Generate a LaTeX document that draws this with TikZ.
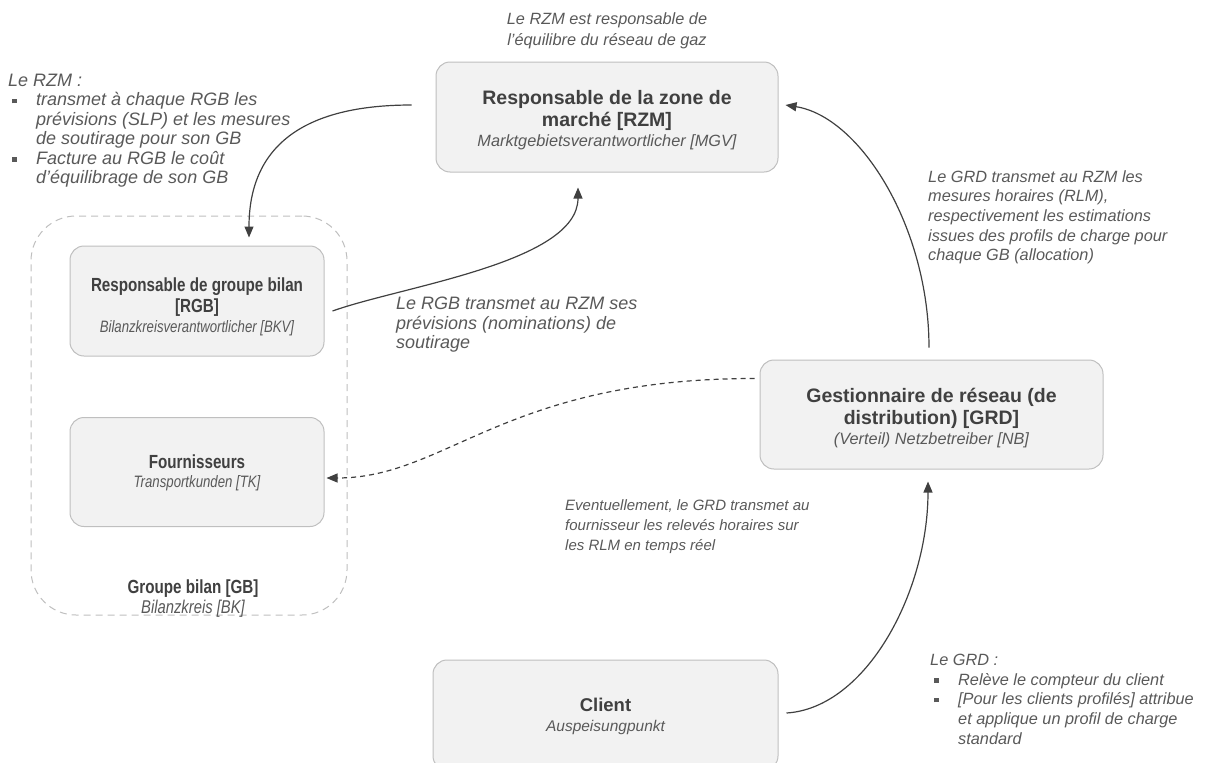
\documentclass[tikz,border=0pt]{standalone}
\usepackage{fontspec}
\setmainfont{Liberation Sans}
\newfontfamily\condfont{Liberation Sans}[FakeStretch=0.8]
\usetikzlibrary{arrows.meta,calc}
\definecolor{boxfill}{HTML}{F2F2F2}
\definecolor{boxline}{HTML}{BFBFBF}
\definecolor{titlecol}{HTML}{404040}
\definecolor{notecol}{HTML}{595959}
\definecolor{arrowcol}{HTML}{404040}
% square bullet and matching indent for the note lists
\newcommand\bulmark{\makebox[28pt][l]{\hspace{4pt}\raisebox{2.5pt}{\rule{4.5pt}{4.5pt}}}}
\newcommand\bulpad{\hspace*{28pt}}
\newcommand\titlefont{\fontsize{19.5}{22.5}\selectfont\bfseries}
\newcommand\subfont{\fontsize{16.3}{19}\selectfont\mdseries\itshape\color{notecol}}
\begin{document}
\begin{tikzpicture}[x=1pt,y=-1pt,
  box/.style={draw=boxline, line width=1pt, fill=boxfill, rounded corners=14pt, inner sep=0pt},
  boxtext/.style={inner sep=0pt, align=center, text=titlecol, font=\titlefont},
  condtext/.style={boxtext, font=\condfont\fontsize{19}{21.5}\selectfont\bfseries},
  group/.style={draw=boxline, line width=1pt, dash pattern=on 7pt off 5pt,
    rounded corners=45pt, inner sep=0pt},
  note/.style={inner sep=0pt, align=left, text=notecol,
    font=\fontsize{16.3}{19.7}\selectfont\itshape},
  conn/.style={draw=arrowcol, line width=1.2pt, -{Triangle[length=11pt,width=9pt]}},
  dconn/.style={conn, dash pattern=on 5pt off 4pt}]
\useasboundingbox (0,0) rectangle (1208,763);

% balancing group frame
\node[group, minimum width=316pt, minimum height=399pt] (gb) at (189,415.5) {};

% actors
\node[box, minimum width=342pt, minimum height=110pt] (rzm) at (607,117) {};
\node[box, minimum width=254pt, minimum height=110pt] (rgb) at (197,301) {};
\node[box, minimum width=254pt, minimum height=109pt] (four) at (197,472) {};
\node[box, minimum width=343pt, minimum height=109pt] (grd) at (931.5,414.5) {};
\node[box, minimum width=345pt, minimum height=110pt] (client) at (605.5,715) {};

\node[boxtext] (rzmtxt) at (607,120)
  {Responsable de la zone de\\marché [RZM]\\[-2.5pt]{\subfont Marktgebietsverantwortlicher [MGV]}};
\node[condtext] (rgbtxt) at (197,306.5)
  {Responsable de groupe bilan\\{[RGB]}\\[-2pt]{\fontsize{16.5}{19}\selectfont\mdseries\itshape\color{notecol}Bilanzkreisverantwortlicher [BKV]}};
\node[condtext] (fourtxt) at (197,473)
  {Fournisseurs\\[-2pt]{\fontsize{16.5}{19}\selectfont\mdseries\itshape\color{notecol}Transportkunden [TK]}};
\node[boxtext] (grdtxt) at (931.5,418)
  {Gestionnaire de réseau (de\\distribution) [GRD]\\[-2.5pt]{\subfont (Verteil) Netzbetreiber [NB]}};
\node[boxtext, font=\fontsize{18.5}{22}\selectfont\bfseries] (clienttxt) at (605.5,716.5)
  {Client\\[-2pt]{\fontsize{15.5}{19}\selectfont\mdseries\itshape\color{notecol}Auspeisungpunkt}};
\node[condtext] (gbtxt) at (193,598.5)
  {Groupe bilan [GB]\\[-1pt]{\fontsize{18.5}{21}\selectfont\mdseries\itshape\color{notecol}Bilanzkreis [BK]}};

% notes
\node[note, align=center, font=\fontsize{16.3}{21}\selectfont\itshape] (n1) at (607,30.5)
  {Le RZM est responsable de\\l’équilibre du réseau de gaz};
\node[note, anchor=north west, font=\fontsize{18}{19.4}\selectfont\itshape] (n2) at (8,74)
  {Le RZM :\\
   \bulmark transmet à chaque RGB les\\
   \bulpad prévisions (SLP) et les mesures\\
   \bulpad de soutirage pour son GB\\
   \bulmark Facture au RGB le coût\\
   \bulpad d’équilibrage de son GB};
\node[note, anchor=north west] (n3) at (928,170)
  {Le GRD transmet au RZM les\\
   mesures horaires (RLM),\\
   respectivement les estimations\\
   issues des profils de charge pour\\
   chaque GB (allocation)};
\node[note, anchor=north west, font=\fontsize{18}{19.6}\selectfont\itshape] (n4) at (396,297)
  {Le RGB transmet au RZM ses\\
   prévisions (nominations) de\\
   soutirage};
\node[note, anchor=north west, font=\fontsize{15}{20}\selectfont\itshape] (n5) at (565,499)
  {Eventuellement, le GRD transmet au\\
   fournisseur les relevés horaires sur\\
   les RLM en temps réel};
\node[note, anchor=north west] (n6) at (930,654)
  {Le GRD :\\
   \bulmark Relève le compteur du client\\
   \bulmark {[Pour les clients profilés]} attribue\\
   \bulpad et applique un profil de charge\\
   \bulpad standard};

% flows
\draw[conn] ($(rzm.west)+(-24,-12)$) .. controls +(-110,0) and +(0,-90) .. ($(rgb.north)+(52,-8)$);
\draw[conn] ($(rgb.east)+(8,10)$) .. controls +(70,-25) and +(0,75) .. ($(rzm.south)+(-29,15)$);
\draw[conn] ($(grd.north)+(-2.5,-12)$) .. controls +(0,-120) and +(75,12) .. ($(rzm.east)+(7,-12)$);
\draw[dconn] ($(grd.west)+(-5,-36)$) .. controls +(-250,0) and +(120,0) .. ($(four.east)+(2,6)$);
\draw[conn] ($(client.east)+(8,-2)$) .. controls +(80,-5) and +(0,110) .. ($(grd.south)+(-3.5,12)$);
\end{tikzpicture}
\end{document}
